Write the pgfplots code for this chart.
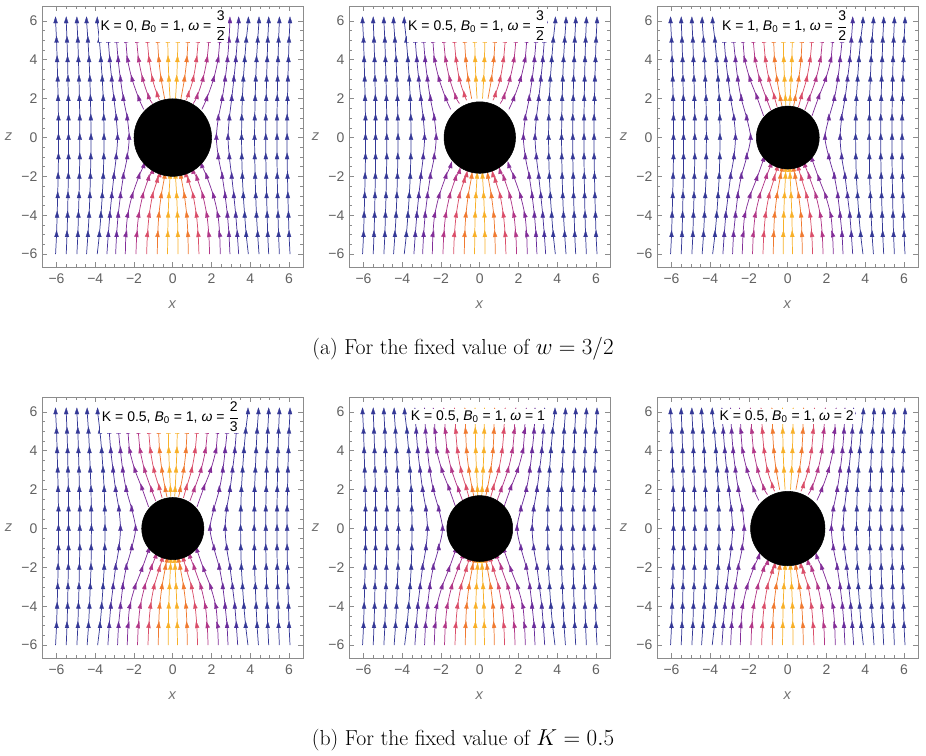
\documentclass[border=0pt]{standalone}
\usepackage{fontspec}
\usepackage{pgfplots}
\pgfplotsset{compat=1.18}
\newfontfamily\mma{Liberation Sans}
\definecolor{c1}{RGB}{52,56,150}
\definecolor{c2}{RGB}{72,50,155}
\definecolor{c3}{RGB}{105,45,155}
\definecolor{c4}{RGB}{130,45,152}
\definecolor{c5}{RGB}{178,55,135}
\definecolor{c6}{RGB}{218,78,105}
\definecolor{c7}{RGB}{240,122,48}
\definecolor{c8}{RGB}{248,176,40}
\newcommand{\fr}[2]{$\displaystyle\frac{\mbox{#1}}{\mbox{#2}}$}
\pgfplotsset{
 sl/.style={smooth, line width=0.55pt, mark=triangle*, mark size=2.4pt, mark repeat=1, mark phase=2},
 arr/.style={mark options={rotate=#1, xscale=0.72, yscale=1.3, line width=0.2pt, solid}},
 panel/.style={scale only axis, width=195.75pt, height=195.75pt,
   xmin=-6.75, xmax=6.72, ymin=-6.66, ymax=6.77,
   xtick={-6,-4,-2,0,2,4,6}, ytick={-6,-4,-2,0,2,4,6},
   xticklabels={−6,−4,−2,0,2,4,6}, yticklabels={−6,−4,−2,0,2,4,6},
   minor tick num=3, tick align=inside,
   axis line style={black!45, line width=0.6pt},
   every tick/.style={black!45, line width=0.5pt},
   major tick length=3.5pt, minor tick length=2pt,
   ticklabel style={font=\mma\fontsize{10.5}{11}\selectfont, text=black!62},
   xticklabel style={yshift=-1.5pt},
   xlabel={\textit{x}}, ylabel={\textit{z}},
   xlabel style={font=\mma\fontsize{11}{12}\selectfont, text=black!55, yshift=-6pt},
   ylabel style={font=\mma\fontsize{11}{12}\selectfont, text=black!55, rotate=-90},
   title style={fill=white, inner sep=1.2pt, anchor=center, font=\mma\fontsize{10.5}{12}\selectfont}},
 tpos/.style={title style={at={(#1,0.894)}}}
}
\newcommand{\sline}[3]{\addplot[sl,#1,arr=#2] coordinates {#3};}
\newcommand{\farlines}{%
\sline{c1}{0}{(-6.05,-6)(-6.0,-5)(-5.97,-4)(-5.94,-3)(-5.92,-2)(-5.9,-1)(-5.9,0)(-5.9,1)(-5.92,2)(-5.94,3)(-5.97,4)(-6.0,5)(-6.05,6)}
\sline{c1}{0}{(6.05,-6)(6.0,-5)(5.97,-4)(5.94,-3)(5.92,-2)(5.9,-1)(5.9,0)(5.9,1)(5.92,2)(5.94,3)(5.97,4)(6.0,5)(6.05,6)}
\sline{c1}{0}{(-5.5,-6)(-5.46,-5)(-5.43,-4)(-5.41,-3)(-5.39,-2)(-5.38,-1)(-5.38,0)(-5.38,1)(-5.39,2)(-5.41,3)(-5.43,4)(-5.46,5)(-5.5,6)}
\sline{c1}{0}{(5.5,-6)(5.46,-5)(5.43,-4)(5.41,-3)(5.39,-2)(5.38,-1)(5.38,0)(5.38,1)(5.39,2)(5.41,3)(5.43,4)(5.46,5)(5.5,6)}
\sline{c1}{0}{(-4.95,-6)(-4.9,-5)(-4.87,-4)(-4.84,-3)(-4.82,-2)(-4.8,-1)(-4.8,0)(-4.8,1)(-4.82,2)(-4.84,3)(-4.87,4)(-4.9,5)(-4.95,6)}
\sline{c1}{0}{(4.95,-6)(4.9,-5)(4.87,-4)(4.84,-3)(4.82,-2)(4.8,-1)(4.8,0)(4.8,1)(4.82,2)(4.84,3)(4.87,4)(4.9,5)(4.95,6)}
}
\newcommand{\streamsA}{%
\farlines
\sline{c1}{0}{(-4.45,-6)(-4.38,-5)(-4.32,-4)(-4.28,-3)(-4.25,-2)(-4.23,-1)(-4.22,0)(-4.23,1)(-4.25,2)(-4.28,3)(-4.32,4)(-4.38,5)(-4.45,6)}
\sline{c1}{0}{(4.45,-6)(4.38,-5)(4.32,-4)(4.28,-3)(4.25,-2)(4.23,-1)(4.22,0)(4.23,1)(4.25,2)(4.28,3)(4.32,4)(4.38,5)(4.45,6)}
\sline{c1}{0}{(-3.9,-6)(-3.79,-5)(-3.71,-4)(-3.64,-3)(-3.59,-2)(-3.56,-1)(-3.55,0)(-3.56,1)(-3.59,2)(-3.64,3)(-3.71,4)(-3.79,5)(-3.9,6)}
\sline{c1}{0}{(3.9,-6)(3.79,-5)(3.71,-4)(3.64,-3)(3.59,-2)(3.56,-1)(3.55,0)(3.56,1)(3.59,2)(3.64,3)(3.71,4)(3.79,5)(3.9,6)}
\sline{c2}{0}{(-3.4,-6)(-3.33,-5)(-3.25,-4)(-3.15,-3)(-3.04,-2)(-2.92,-1)(-2.85,0)(-2.92,1)(-3.04,2)(-3.15,3)(-3.25,4)(-3.33,5)(-3.4,6)}
\sline{c2}{0}{(3.4,-6)(3.33,-5)(3.25,-4)(3.15,-3)(3.04,-2)(2.92,-1)(2.85,0)(2.92,1)(3.04,2)(3.15,3)(3.25,4)(3.33,5)(3.4,6)}
\sline{c3}{0}{(-2.95,-6)(-2.9,-5)(-2.82,-4)(-2.7,-3)(-2.55,-2)(-2.35,-1)(-2.25,0)(-2.35,1)(-2.55,2)(-2.7,3)(-2.82,4)(-2.9,5)(-2.95,6)}
\sline{c3}{0}{(2.95,-6)(2.9,-5)(2.82,-4)(2.7,-3)(2.55,-2)(2.35,-1)(2.25,0)(2.35,1)(2.55,2)(2.7,3)(2.82,4)(2.9,5)(2.95,6)}
\sline{c4}{-14}{(-2.45,-6)(-2.42,-5)(-2.33,-4)(-2.1,-3)(-1.75,-2.0)(-1.5,-1.45)}
\sline{c4}{14}{(2.45,-6)(2.42,-5)(2.33,-4)(2.1,-3)(1.75,-2.0)(1.5,-1.45)}
\sline{c5}{-11}{(-1.9,-6)(-1.86,-5)(-1.76,-4)(-1.55,-3)(-1.25,-2.1)(-1.05,-1.75)}
\sline{c5}{11}{(1.9,-6)(1.86,-5)(1.76,-4)(1.55,-3)(1.25,-2.1)(1.05,-1.75)}
\sline{c6}{-9}{(-1.35,-6)(-1.31,-5)(-1.22,-4)(-1.05,-3)(-0.8,-2.2)(-0.68,-1.92)}
\sline{c6}{9}{(1.35,-6)(1.31,-5)(1.22,-4)(1.05,-3)(0.8,-2.2)(0.68,-1.92)}
\sline{c7}{-6}{(-0.8,-6)(-0.78,-5)(-0.72,-4)(-0.6,-3)(-0.42,-2.0)}
\sline{c7}{6}{(0.8,-6)(0.78,-5)(0.72,-4)(0.6,-3)(0.42,-2.0)}
\sline{c8}{-2}{(-0.27,-6)(-0.26,-5)(-0.24,-4)(-0.2,-3)(-0.14,-2.0)}
\sline{c8}{2}{(0.27,-6)(0.26,-5)(0.24,-4)(0.2,-3)(0.14,-2.0)}
\sline{c4}{14}{(-1.5,1.45)(-1.75,2.0)(-2.1,3)(-2.33,4)(-2.42,5)(-2.45,6)}
\sline{c4}{-14}{(1.5,1.45)(1.75,2.0)(2.1,3)(2.33,4)(2.42,5)(2.45,6)}
\sline{c5}{11}{(-1.05,1.75)(-1.25,2.1)(-1.55,3)(-1.76,4)(-1.86,5)(-1.9,6)}
\sline{c5}{-11}{(1.05,1.75)(1.25,2.1)(1.55,3)(1.76,4)(1.86,5)(1.9,6)}
\sline{c6}{9}{(-0.68,1.92)(-0.8,2.2)(-1.05,3)(-1.22,4)(-1.31,5)(-1.35,6)}
\sline{c6}{-9}{(0.68,1.92)(0.8,2.2)(1.05,3)(1.22,4)(1.31,5)(1.35,6)}
\sline{c7}{6}{(-0.42,2.0)(-0.6,3)(-0.72,4)(-0.78,5)(-0.8,6)}
\sline{c7}{-6}{(0.42,2.0)(0.6,3)(0.72,4)(0.78,5)(0.8,6)}
\sline{c8}{2}{(-0.14,2.0)(-0.2,3)(-0.24,4)(-0.26,5)(-0.27,6)}
\sline{c8}{-2}{(0.14,2.0)(0.2,3)(0.24,4)(0.26,5)(0.27,6)}
}
\newcommand{\streamsB}{%
\farlines
\sline{c1}{0}{(-4.42,-6)(-4.35,-5)(-4.3,-4)(-4.26,-3)(-4.22,-2)(-4.21,-1)(-4.2,0)(-4.21,1)(-4.22,2)(-4.26,3)(-4.3,4)(-4.35,5)(-4.42,6)}
\sline{c1}{0}{(4.42,-6)(4.35,-5)(4.3,-4)(4.26,-3)(4.22,-2)(4.21,-1)(4.2,0)(4.21,1)(4.22,2)(4.26,3)(4.3,4)(4.35,5)(4.42,6)}
\sline{c1}{0}{(-3.88,-6)(-3.76,-5)(-3.67,-4)(-3.6,-3)(-3.54,-2)(-3.51,-1)(-3.5,0)(-3.51,1)(-3.54,2)(-3.6,3)(-3.67,4)(-3.76,5)(-3.88,6)}
\sline{c1}{0}{(3.88,-6)(3.76,-5)(3.67,-4)(3.6,-3)(3.54,-2)(3.51,-1)(3.5,0)(3.51,1)(3.54,2)(3.6,3)(3.67,4)(3.76,5)(3.88,6)}
\sline{c2}{0}{(-3.35,-6)(-3.28,-5)(-3.2,-4)(-3.08,-3)(-2.95,-2)(-2.78,-1)(-2.7,0)(-2.78,1)(-2.95,2)(-3.08,3)(-3.2,4)(-3.28,5)(-3.35,6)}
\sline{c2}{0}{(3.35,-6)(3.28,-5)(3.2,-4)(3.08,-3)(2.95,-2)(2.78,-1)(2.7,0)(2.78,1)(2.95,2)(3.08,3)(3.2,4)(3.28,5)(3.35,6)}
\sline{c3}{0}{(-2.85,-6)(-2.8,-5)(-2.7,-4)(-2.58,-3)(-2.4,-2)(-2.12,-1)(-1.92,0)(-2.12,1)(-2.4,2)(-2.58,3)(-2.7,4)(-2.8,5)(-2.85,6)}
\sline{c3}{0}{(2.85,-6)(2.8,-5)(2.7,-4)(2.58,-3)(2.4,-2)(2.12,-1)(1.92,0)(2.12,1)(2.4,2)(2.58,3)(2.7,4)(2.8,5)(2.85,6)}
\sline{c4}{-16}{(-2.35,-6)(-2.31,-5)(-2.22,-4)(-1.95,-3)(-1.6,-2.1)(-1.25,-1.12)}
\sline{c4}{16}{(2.35,-6)(2.31,-5)(2.22,-4)(1.95,-3)(1.6,-2.1)(1.25,-1.12)}
\sline{c5}{-12}{(-1.82,-6)(-1.78,-5)(-1.68,-4)(-1.45,-3)(-1.1,-2.0)(-0.88,-1.42)}
\sline{c5}{12}{(1.82,-6)(1.78,-5)(1.68,-4)(1.45,-3)(1.1,-2.0)(0.88,-1.42)}
\sline{c6}{-9}{(-1.28,-6)(-1.24,-5)(-1.15,-4)(-0.97,-3)(-0.7,-2.1)(-0.55,-1.58)}
\sline{c6}{9}{(1.28,-6)(1.24,-5)(1.15,-4)(0.97,-3)(0.7,-2.1)(0.55,-1.58)}
\sline{c7}{-6}{(-0.75,-6)(-0.73,-5)(-0.68,-4)(-0.56,-3)(-0.38,-2)(-0.3,-1.63)}
\sline{c7}{6}{(0.75,-6)(0.73,-5)(0.68,-4)(0.56,-3)(0.38,-2)(0.3,-1.63)}
\sline{c8}{-2}{(-0.24,-6)(-0.23,-5)(-0.21,-4)(-0.17,-3)(-0.12,-2)(-0.1,-1.65)}
\sline{c8}{2}{(0.24,-6)(0.23,-5)(0.21,-4)(0.17,-3)(0.12,-2)(0.1,-1.65)}
\sline{c4}{16}{(-1.25,1.12)(-1.6,2.1)(-1.95,3)(-2.22,4)(-2.31,5)(-2.35,6)}
\sline{c4}{-16}{(1.25,1.12)(1.6,2.1)(1.95,3)(2.22,4)(2.31,5)(2.35,6)}
\sline{c5}{12}{(-0.88,1.42)(-1.1,2.0)(-1.45,3)(-1.68,4)(-1.78,5)(-1.82,6)}
\sline{c5}{-12}{(0.88,1.42)(1.1,2.0)(1.45,3)(1.68,4)(1.78,5)(1.82,6)}
\sline{c6}{9}{(-0.55,1.58)(-0.7,2.1)(-0.97,3)(-1.15,4)(-1.24,5)(-1.28,6)}
\sline{c6}{-9}{(0.55,1.58)(0.7,2.1)(0.97,3)(1.15,4)(1.24,5)(1.28,6)}
\sline{c7}{6}{(-0.3,1.63)(-0.38,2)(-0.56,3)(-0.68,4)(-0.73,5)(-0.75,6)}
\sline{c7}{-6}{(0.3,1.63)(0.38,2)(0.56,3)(0.68,4)(0.73,5)(0.75,6)}
\sline{c8}{2}{(-0.1,1.65)(-0.12,2)(-0.17,3)(-0.21,4)(-0.23,5)(-0.24,6)}
\sline{c8}{-2}{(0.1,1.65)(0.12,2)(0.17,3)(0.21,4)(0.23,5)(0.24,6)}
}
\begin{document}
\begin{tikzpicture}
\path[use as bounding box] (0pt,0pt) rectangle (694.5pt,-567pt);
% row 1
\begin{axis}[panel, at={(31.5pt,-4.5pt)}, anchor=north west, tpos=0.465,
  title={K = 0, \textit{B}\textsubscript{0} = 1, \textit{ω} = \fr{3}{2}}]
\streamsA
\addplot[only marks, mark=*, mark size=29.1pt, black] coordinates {(0,0)};
\end{axis}
\begin{axis}[panel, at={(261.75pt,-4.5pt)}, anchor=north west, tpos=0.49,
  title={K = 0.5, \textit{B}\textsubscript{0} = 1, \textit{ω} = \fr{3}{2}}]
\streamsA
\addplot[only marks, mark=*, mark size=26.8pt, black] coordinates {(0,0)};
\end{axis}
\begin{axis}[panel, at={(492.75pt,-4.5pt)}, anchor=north west, tpos=0.49,
  title={K = 1, \textit{B}\textsubscript{0} = 1, \textit{ω} = \fr{3}{2}}]
\streamsB
\addplot[only marks, mark=*, mark size=23.6pt, black] coordinates {(0,0)};
\end{axis}
% row 2
\begin{axis}[panel, at={(31.5pt,-297.75pt)}, anchor=north west, tpos=0.493,
  title={K = 0.5, \textit{B}\textsubscript{0} = 1, \textit{ω} = \fr{2}{3}}]
\streamsB
\addplot[only marks, mark=*, mark size=23.3pt, black] coordinates {(0,0)};
\end{axis}
\begin{axis}[panel, at={(261.75pt,-297.75pt)}, anchor=north west, tpos=0.494,
  title={K = 0.5, \textit{B}\textsubscript{0} = 1, \textit{ω} = 1}]
\streamsB
\addplot[only marks, mark=*, mark size=24.7pt, black] coordinates {(0,0)};
\end{axis}
\begin{axis}[panel, at={(492.75pt,-297.75pt)}, anchor=north west, tpos=0.497,
  title={K = 0.5, \textit{B}\textsubscript{0} = 1, \textit{ω} = 2}]
\streamsA
\addplot[only marks, mark=*, mark size=27.9pt, black] coordinates {(0,0)};
\end{axis}
\node[font=\fontsize{16.3}{18}\selectfont] at (347.25pt,-261.75pt) {(a) For the fixed value of $w=3/2$};
\node[font=\fontsize{16.3}{18}\selectfont] at (347.25pt,-555pt) {(b) For the fixed value of $K=0.5$};
\end{tikzpicture}
\end{document}
